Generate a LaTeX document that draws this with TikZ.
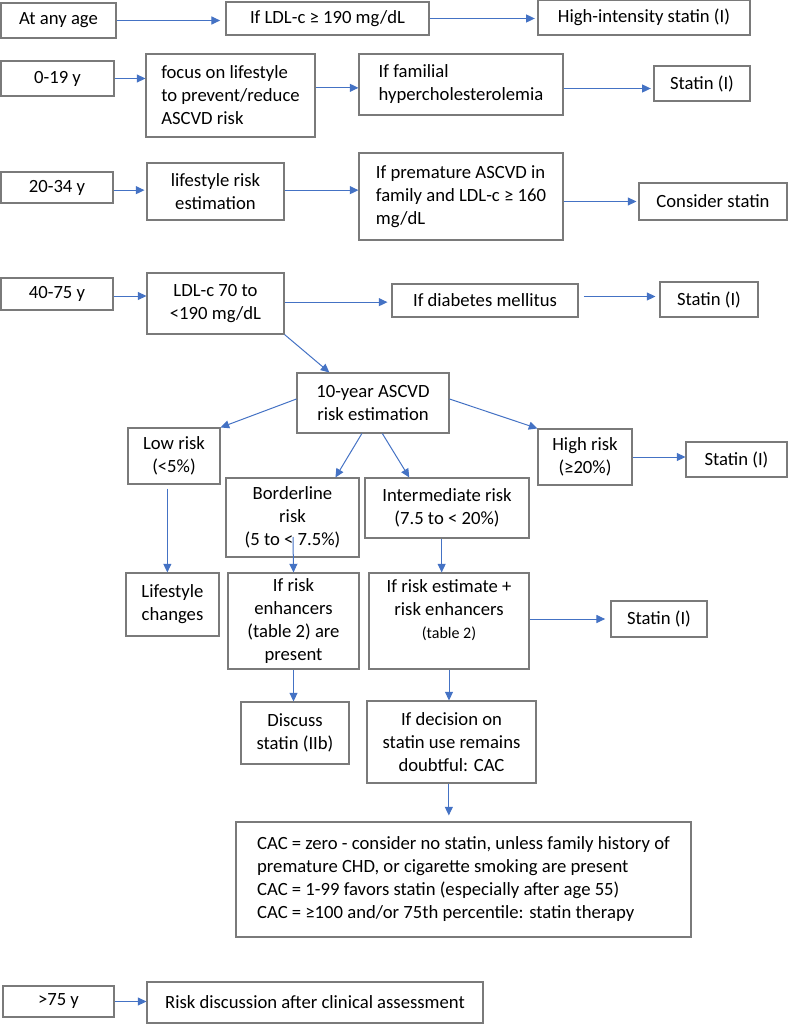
\documentclass[tikz,border=0pt]{standalone}
\usepackage{fontspec}
\setmainfont{Carlito}
\usepackage{tikz}
\usetikzlibrary{arrows.meta, positioning}
\definecolor{arrblue}{HTML}{4472C4}
\definecolor{boxgray}{HTML}{7A7A7A}

\begin{document}
\begin{tikzpicture}[x=0.75pt, y=-0.75pt,
    font=\fontsize{14}{17.25}\selectfont,
    box/.style={draw=boxgray, line width=0.8pt, inner sep=2pt, align=center},
    wh/.style 2 args={minimum width=#1*0.75pt, minimum height=#2*0.75pt},
    arr/.style={draw=arrblue, line width=0.75pt, -{Triangle[length=6.5pt, width=6pt]}}]
    \useasboundingbox (0,0) rectangle (788,1024);

    \node (age0) [box, wh={115}{35}] at (58.5,20.5) {At any age};
    \node (ldl190) [box, wh={203}{33}] at (327.5,18.5) {If LDL-c ≥ 190 mg/dL};
    \node (hist) [box, wh={212}{35}] at (644,17.5) {High-intensity statin (I)};
    \draw[arr, shorten >=4pt] (age0.east) -- (age0.east -| ldl190.west);
    \draw[arr, shorten >=2pt] (ldl190.east) -- (ldl190.east -| hist.west);

    \node (a019) [box, wh={113}{35}] at (57.5,78.5) {0-19 y};
    \node (focus) [box, wh={169}{83}, align=left] at (230.5,95.5) {focus on lifestyle\\ to prevent/reduce\\ ASCVD risk};
    \node (famil) [box, wh={204}{61}, align=left] at (461,84.5) {If familial\\ hypercholesterolemia};
    \node (st1) [box, wh={96}{35}] at (702,83.5) {Statin (I)};
    \draw[arr] (a019.east) -- (a019.east -| focus.west);
    \draw[arr] ([yshift=-2.5pt]famil.west -| focus.east) -- ([yshift=-2.5pt]famil.west);
    \draw[arr, shorten >=2pt] ([yshift=-3pt]famil.east) -- ([yshift=-3pt]famil.east -| st1.west);

    \node (a2034) [box, wh={112}{31}] at (57,187.5) {20-34 y};
    \node (lrisk) [box, wh={137}{57}] at (215.5,191.5) {lifestyle risk\\ estimation};
    \node (prem) [box, wh={204}{87}, align=left] at (461,196.5) {If premature ASCVD in\\ family and LDL-c ≥ 160\\ mg/dL};
    \node (cons) [box, wh={148}{37}] at (713,201.5) {Consider statin};
    \draw[arr, shorten >=1.5pt] ([yshift=-2pt]a2034.east) -- ([yshift=-2pt]a2034.east -| lrisk.west);
    \draw[arr] ([yshift=1pt]lrisk.east) -- ([yshift=1pt]lrisk.east -| prem.west);
    \draw[arr, shorten >=1.5pt] (cons.west -| prem.east) -- (cons.west);

    \node (a4075) [box, wh={112}{32}] at (57,294) {40-75 y};
    \node (ldl70) [box, wh={137}{61}] at (215.5,303.5) {LDL-c 70 to\\ <190 mg/dL};
    \node (diab) [box, wh={186}{33}] at (485,300.5) {If diabetes mellitus};
    \node (st2) [box, wh={98}{35}] at (709,299.5) {Statin (I)};
    \draw[arr] ([yshift=-1.5pt]a4075.east) -- ([yshift=-1.5pt]a4075.east -| ldl70.west);
    \draw[arr, shorten >=3pt] ([yshift=1pt]ldl70.east) -- ([yshift=1pt]ldl70.east -| diab.west);
    \draw[arr, shorten <=4pt, shorten >=3pt] ([yshift=3pt]diab.east) -- ([yshift=3pt]diab.east -| st2.west);

    \node (tenyr) [box, wh={152}{60}] at (373,403) {10-year ASCVD\\ risk estimation};
    \draw[arr] (ldl70.south east) -- (tenyr.145);

    \node (low) [box, wh={92}{56}] at (174,456) {Low risk\\ (<5\%)};
    \node (high) [box, wh={94}{56}] at (585,457) {High risk\\ (≥20\%)};
    \node (st3) [box, wh={101}{35}] at (736.5,459.5) {Statin (I)};
    \draw[arr] ([yshift=3pt]tenyr.west) -- (low.north east);
    \draw[arr] ([yshift=3pt]tenyr.east) -- (high.north west);
    \draw[arr] (high.east) -- (high.east -| st3.west);

    \node (border) [box, wh={133}{79}] at (292.5,517.5) {Borderline\\ risk\\ (5 to < 7.5\%)};
    \node (inter) [box, wh={164}{60}] at (447,508) {Intermediate risk\\ (7.5 to < 20\%)};
    \draw[arr] (tenyr.250) -- (border.43);
    \draw[arr] (tenyr.287) -- (inter.141);

    \node (lifech) [box, wh={93}{63}] at (172.5,604.5) {Lifestyle\\ changes};
    \node (enh) [box, wh={131}{96}] at (293.5,621) {If risk\\ enhancers\\ (table 2) are\\ present};
    \node (est) [box, wh={160}{96}] at (449,621) {If risk estimate +\\ risk enhancers\\ {\fontsize{12}{14}\selectfont (table 2)}\\ ~};
    \node (st4) [box, wh={96}{36}] at (659,619) {Statin (I)};
    \coordinate (bdrop) at (293,537);
    \draw[arr, shorten <=3pt] ([xshift=-5pt]low.south) -- ([xshift=-5pt]low.south |- lifech.north);
    \draw[arr] (bdrop) -- (enh.north);
    \draw[arr] ([xshift=-4pt]inter.south) -- ([xshift=-4pt]inter.south |- est.north);
    \draw[arr, shorten >=4pt] ([yshift=1.5pt]est.east) -- ([yshift=1.5pt]est.east -| st4.west);

    \node (disc) [box, wh={108}{62}] at (295,733) {Discuss\\ statin (IIb)};
    \node (doubt) [box, wh={169}{82}] at (451.5,742) {If decision on\\ statin use remains\\ doubtful: CAC};
    \draw[arr] (enh.south) -- (enh.south |- disc.north);
    \draw[arr] (est.south) -- (est.south |- doubt.north);

    \node (cac) [box, wh={455}{115}, align=left] at (463.5,879.5) {CAC = zero - consider no statin, unless family history of\\ premature CHD, or cigarette smoking are present\\ CAC = 1-99 favors statin (especially after age 55)\\ CAC = ≥100 and/or 75th percentile: statin therapy};
    \draw[arr, shorten >=4.5pt] ([xshift=-2pt]doubt.south) -- ([xshift=-2pt]doubt.south |- cac.north);

    \node (a75) [box, wh={111}{31}] at (58.5,1001.5) {>75 y};
    \node (rdisc) [box, wh={336}{41}] at (315,1002.5) {Risk discussion after clinical assessment};
    \draw[arr] (a75.east) -- (a75.east -| rdisc.west);
\end{tikzpicture}
\end{document}
